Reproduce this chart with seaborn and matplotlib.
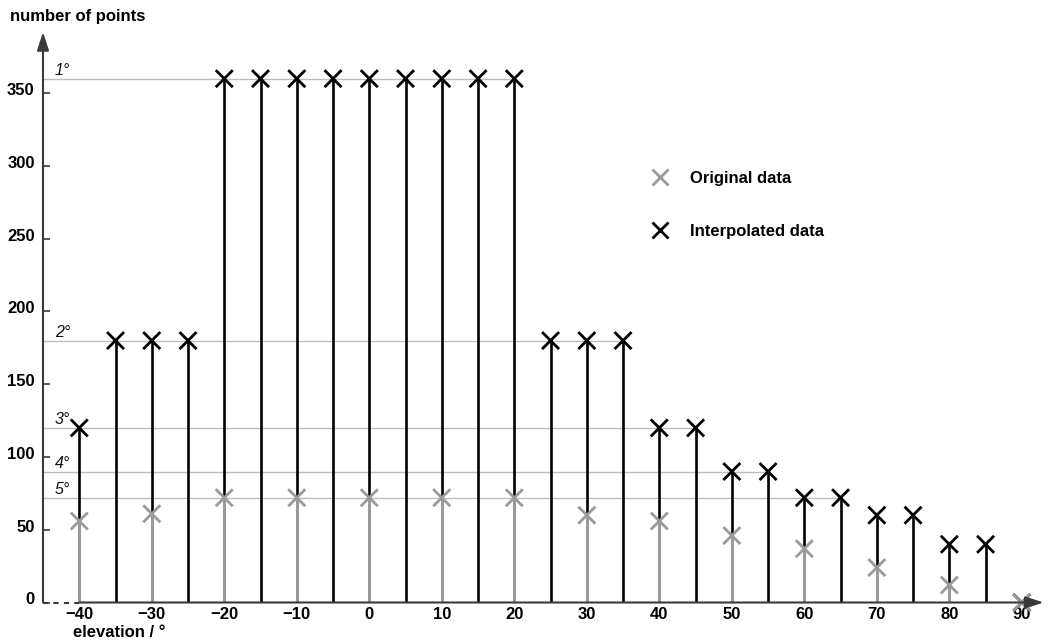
import numpy as np
import pandas as pd
import matplotlib
matplotlib.use("Agg")
import matplotlib.pyplot as plt
from matplotlib.transforms import ScaledTranslation
import seaborn as sns

# Elevation sampling: original grid every 10 deg, interpolated grid every 5 deg
orig_elevation = [-40, -30, -20, -10, 0, 10, 20, 30, 40, 50, 60, 70, 80, 90]
orig_points = [56, 61, 72, 72, 72, 72, 72, 60, 56, 46, 37, 24, 12, 0]

interp_elevation = [-40, -35, -30, -25, -20, -15, -10, -5, 0, 5, 10, 15, 20,
                    25, 30, 35, 40, 45, 50, 55, 60, 65, 70, 75, 80, 85, 90]
interp_points = [120, 180, 180, 180, 360, 360, 360, 360, 360, 360, 360, 360, 360,
                 180, 180, 180, 120, 120, 90, 90, 72, 72, 60, 60, 40, 40, 0]

# Azimuth resolution levels (points per full circle)
res_points = [360, 180, 120, 90, 72]
res_labels = ["1°", "2°", "3°", "4°", "5°"]

y_ticks = [0, 50, 100, 150, 200, 250, 300, 350]
x_ticks = [-40, -30, -20, -10, 0, 10, 20, 30, 40, 50, 60, 70, 80, 90]

GRAY = "#9a9a9a"
BLACK = "#000000"
AXIS = "#3a3a3a"
FS = 12

sns.set_style("white")
plt.rcParams["font.family"] = ["Liberation Sans", "DejaVu Sans"]
plt.rcParams["text.color"] = "black"
plt.rcParams["axes.labelcolor"] = "black"
plt.rcParams["xtick.labelcolor"] = "black"
plt.rcParams["ytick.labelcolor"] = "black"

df = pd.concat([
    pd.DataFrame({"elevation": interp_elevation, "points": interp_points,
                  "series": "Interpolated data"}),
    pd.DataFrame({"elevation": orig_elevation, "points": orig_points,
                  "series": "Original data"}),
], ignore_index=True)

fig = plt.figure(figsize=(10.48, 6.41), dpi=100)
W, H = 1048, 641
ax = fig.add_axes([43 / W, (H - 602.5) / H, (1043.6 - 43) / W, (602.5 - 32.1) / H])
ax.set_xlim(-45, 93)
ax.set_ylim(0, 392)

# resolution reference lines, each reaching the last elevation at that level
for val, lab in zip(res_points, res_labels):
    x_end = max(e for e, p in zip(interp_elevation, interp_points) if p == val)
    ax.hlines(val, -45, x_end, colors="#bdbdbd", linewidth=1.0, zorder=1)
    ax.annotate(lab, xy=(-45, val), xytext=(12, 1), textcoords="offset pixels",
                ha="left", va="bottom", fontsize=11.5, fontstyle="italic",
                color="#111111")

# stems
ax.vlines(interp_elevation, 0, interp_points, colors=BLACK, linewidth=1.9, zorder=2)
ax.vlines(orig_elevation, 0, orig_points, colors=GRAY, linewidth=2.2, zorder=2.5)

# markers
sns.scatterplot(data=df, x="elevation", y="points", hue="series",
                hue_order=["Original data", "Interpolated data"],
                palette={"Original data": GRAY, "Interpolated data": BLACK},
                marker="x", s=150, linewidth=2.0, ax=ax, zorder=3,
                clip_on=False, legend=True)

# axes drawn as arrows
for s in ax.spines.values():
    s.set_visible(False)
arrow = dict(arrowstyle="-|>,head_length=0.55,head_width=0.18", color=AXIS,
             linewidth=1.5, shrinkA=0, shrinkB=0, mutation_scale=20)
ax.annotate("", xy=(0, 1), xytext=(0, 0), xycoords="axes fraction",
            arrowprops=arrow, annotation_clip=False)
ax.annotate("", xy=(93, 0), xytext=(-40, 0), xycoords="data",
            arrowprops=arrow, annotation_clip=False)
ax.plot([-45, -40], [0, 0], color=AXIS, linewidth=1.5, linestyle=(0, (2.5, 2.5)),
        clip_on=False, zorder=4)

ax.set_yticks(y_ticks)
ax.set_xticks(x_ticks)
ax.set_yticklabels([str(v) for v in y_ticks], fontweight="bold", fontsize=FS)
ax.set_xticklabels([f"{v}".replace("-", "\u2212") for v in x_ticks],
                   fontweight="bold", fontsize=FS)
ax.tick_params(axis="y", direction="in", length=5, width=1.2, color=AXIS,
               pad=6, left=True)
ax.tick_params(axis="x", length=0, pad=3)
for lbl in ax.get_yticklabels():
    lbl.set_transform(lbl.get_transform() + ScaledTranslation(0, 4 / 100, fig.dpi_scale_trans))

ax.set_xlabel("elevation / °", fontweight="bold", fontsize=FS)
ax.xaxis.set_label_coords((119 - 43) / 1000.6, -(625 - 602.5) / 570.4)
ax.set_ylabel("number of points", fontweight="bold", fontsize=FS, rotation=0,
              ha="left", va="center")
ax.yaxis.set_label_coords((10 - 43) / 1000.6, (602.5 - 17) / 570.4)

handles, labels = ax.get_legend_handles_labels()
leg = ax.legend(handles, labels, frameon=False, loc="upper left",
                bbox_to_anchor=(652 / W, 1 - 171 / H), bbox_transform=fig.transFigure,
                borderpad=0, borderaxespad=0, handlelength=1.0, handletextpad=1.28,
                labelspacing=2.27, prop={"weight": "bold", "size": FS})
for h in leg.legend_handles:
    h.set_markersize(12)
    h.set_markeredgewidth(2.0)

fig.savefig("out.png", dpi=100)
